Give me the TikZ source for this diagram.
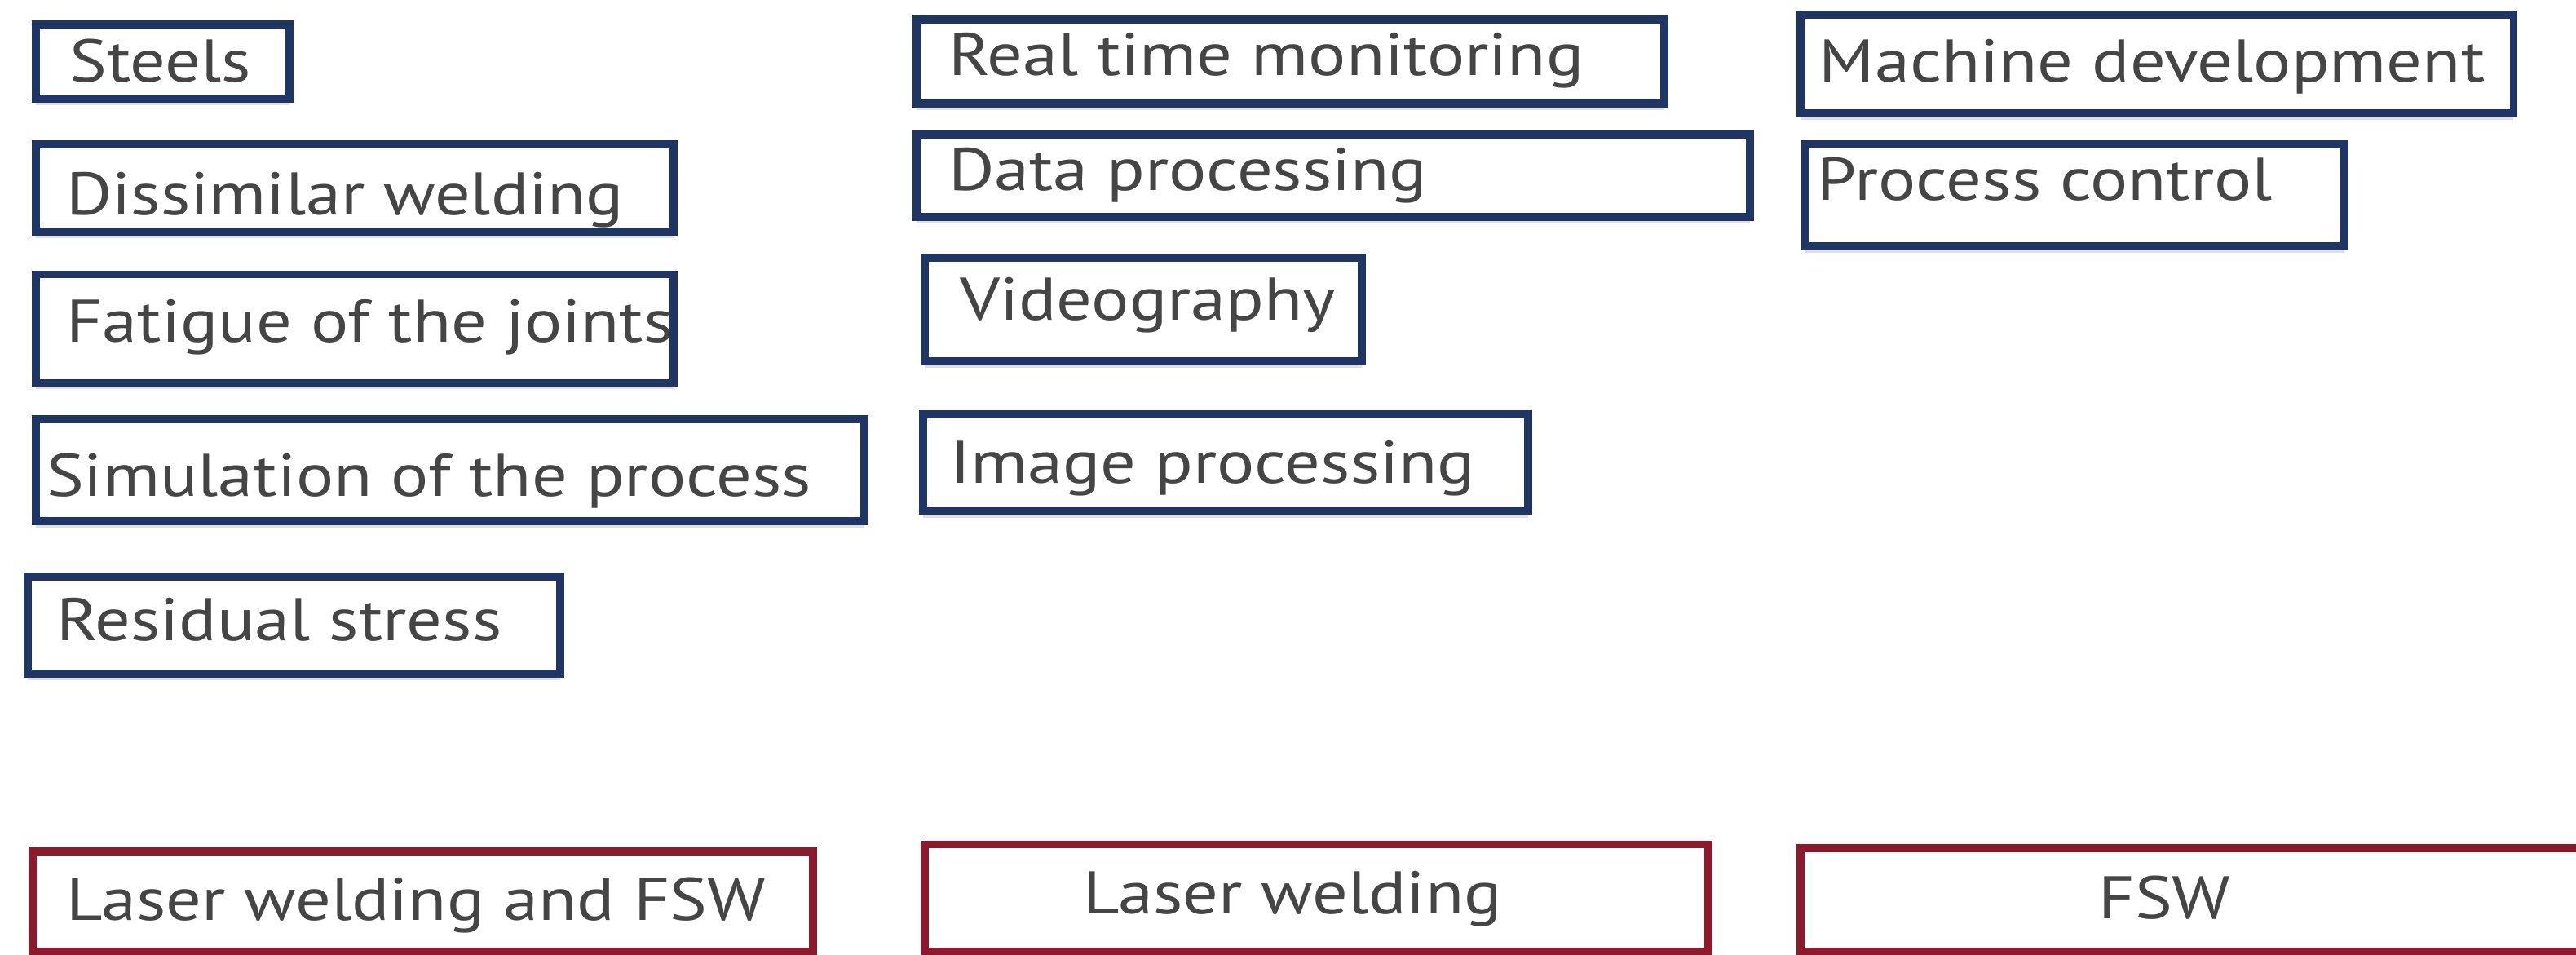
\documentclass[tikz,border=0pt]{standalone}
\usepackage{fontspec}
\setmainfont[FakeStretch=1.17]{PT Sans}
\usetikzlibrary{fit,shadows,positioning}
\definecolor{navy}{HTML}{1F3566}
\definecolor{wine}{HTML}{8C1A2C}
\definecolor{ink}{HTML}{454545}
\tikzset{
  topic/.style={draw=navy, line width=2.8pt, fill=white, inner sep=0pt,
    drop shadow={shadow xshift=0pt,shadow yshift=-0.8mm,opacity=0.25}},
  field/.style={topic, draw=wine},
  lbl/.style={text=ink, font=\fontsize{21}{24}\selectfont, inner sep=0pt, anchor=base west}
}
\begin{document}
\begin{tikzpicture}[x=0.20147mm,y=-0.20147mm]
\useasboundingbox (0,0) rectangle (1568,581);
% materials column
\node[topic, fit={(22,15) (176,60)}] (steels) {};
\node[topic, fit={(22,88) (410,141)}] (dissim) {};
\node[topic, fit={(22,167) (410,233)}] (fatigue) {};
\node[topic, fit={(22,255) (526,317)}] (simul) {};
\node[topic, fit={(17,351) (341,410)}] (resid) {};
\node[field, fit={(20,518) (495,579)}] (both) {};
\node[lbl] (steelsT) at (42,50) {Steels};
\node[lbl] (dissimT) at (40,131) {Dissimilar welding};
\node[lbl] (fatigueT) at (40,208) {Fatigue of the joints};
\node[lbl] (simulT) at (28,302) {Simulation of the process};
\node[lbl] (residT) at (34,390) {Residual stress};
\node[lbl] (bothT) at (40,560) {Laser welding and FSW};
% monitoring column
\node[topic, fit={(558,12) (1013,63)}] (rtm) {};
\node[topic, fit={(558,82) (1065,132)}] (data) {};
\node[topic, fit={(563,157) (829,220)}] (video) {};
\node[topic, fit={(562,252) (930,311)}] (image) {};
\node[field, fit={(563,514) (1040,579)}] (laser) {};
\node[lbl] (rtmT) at (577,46) {Real time monitoring};
\node[lbl] (dataT) at (577,116) {Data processing};
\node[lbl] (videoT) at (584,195) {Videography};
\node[lbl] (imageT) at (578,294) {Image processing};
\node[lbl] (laserT) at (659,556) {Laser welding};
% machine column
\node[topic, fit={(1096,9) (1530,69)}] (machine) {};
\node[topic, fit={(1099,88) (1427,150)}] (control) {};
\node[field, fit={(1096,516) (1585,579)}] (fsw) {};
\node[lbl] (machineT) at (1107,50) {Machine development};
\node[lbl] (controlT) at (1106,122) {Process control};
\node[lbl] (fswT) at (1277,559) {FSW};
\end{tikzpicture}
\end{document}
